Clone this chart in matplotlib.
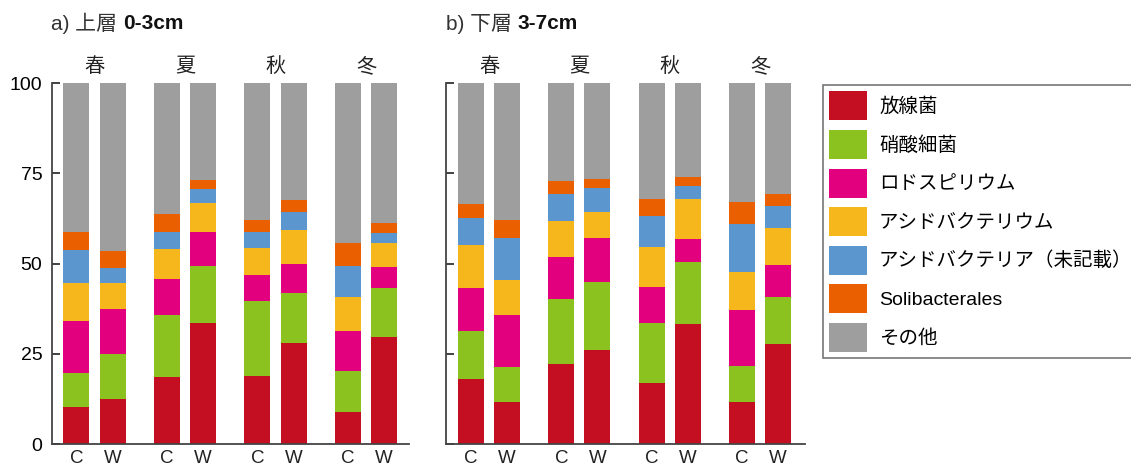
import matplotlib
matplotlib.use("Agg")
import matplotlib.pyplot as plt
import numpy as np

plt.rcParams['font.family'] = ['Liberation Sans', 'Noto Sans CJK JP']

seasons = ["春", "夏", "秋", "冬"]
treatments = ["C", "W"]
taxa = ["放線菌", "硝酸細菌", "ロドスピリウム", "アシドバクテリウム",
        "アシドバクテリア（未記載）", "Solibacterales", "その他"]
colors = ["#C40F22", "#8CC21F", "#E3007E", "#F5B71C", "#5B96CF", "#EA6000", "#9E9E9E"]

# bar order: 春C 春W 夏C 夏W 秋C 秋W 冬C 冬W  (%)
# a) upper layer 0-3cm
up_actino = [10.2, 12.5, 18.5, 33.6, 18.8, 28.1, 8.9, 29.6]
up_nitro  = [9.4, 12.4, 17.3, 15.8, 20.7, 13.6, 11.4, 13.5]
up_rhodo  = [14.6, 12.4, 10.0, 9.2, 7.2, 8.1, 11.0, 6.0]
up_acidi  = [10.3, 7.2, 8.2, 8.2, 7.6, 9.5, 9.5, 6.7]
up_acidu  = [9.2, 4.3, 4.6, 3.8, 4.3, 4.9, 8.6, 2.6]
up_soli   = [4.9, 4.7, 5.1, 2.5, 3.4, 3.4, 6.4, 2.9]
up_other  = [41.4, 46.5, 36.3, 26.9, 38.0, 32.4, 44.2, 38.7]

# b) lower layer 3-7cm
lo_actino = [18.1, 11.5, 22.1, 26.0, 16.8, 33.2, 11.5, 27.7]
lo_nitro  = [13.2, 9.9, 18.1, 18.8, 16.8, 17.2, 10.2, 13.1]
lo_rhodo  = [11.8, 14.4, 11.5, 12.2, 9.9, 6.3, 15.5, 8.7]
lo_acidi  = [12.0, 9.6, 10.0, 7.3, 11.2, 11.2, 10.5, 10.4]
lo_acidu  = [7.5, 11.6, 7.5, 6.5, 8.6, 3.6, 13.2, 6.0]
lo_soli   = [4.0, 5.0, 3.7, 2.7, 4.6, 2.4, 6.1, 3.4]
lo_other  = [33.4, 38.0, 27.1, 26.5, 32.1, 26.1, 33.0, 30.7]

upper = [up_actino, up_nitro, up_rhodo, up_acidi, up_acidu, up_soli, up_other]
lower = [lo_actino, lo_nitro, lo_rhodo, lo_acidi, lo_acidu, lo_soli, lo_other]

fig = plt.figure(figsize=(11.31, 4.70), dpi=100)
ax1 = fig.add_axes([0.046, 0.0553, 0.3157, 0.768])
ax2 = fig.add_axes([0.3943, 0.0553, 0.3174, 0.768])

groups = np.arange(len(seasons))
xpos = np.ravel(np.column_stack([groups - 0.2, groups + 0.2]))
xlabels = treatments * len(seasons)

handles = []
for ax, layer, xl in [(ax1, upper, (-0.47, 3.475)), (ax2, lower, (-0.476, 3.495))]:
    bottom = np.zeros(len(xpos))
    handles = []
    for vals, col, name in zip(layer, colors, taxa):
        b = ax.bar(xpos, vals, width=0.287, bottom=bottom, color=col, label=name, linewidth=0)
        handles.append(b)
        bottom += np.array(vals)
    ax.set_ylim(0, 100)
    ax.set_xlim(*xl)
    ax.set_yticks([0, 25, 50, 75, 100])
    ax.set_xticks(xpos)
    ax.set_xticklabels(xlabels, fontsize=13.5, color='#222222')
    ax.tick_params(axis='x', length=0, pad=4)
    ax.tick_params(axis='y', direction='in', length=6, width=1.3, labelsize=14, pad=7,
                   color='#333333')
    for s in ['top', 'right']:
        ax.spines[s].set_visible(False)
    for s in ['left', 'bottom']:
        ax.spines[s].set_linewidth(1.3)
        ax.spines[s].set_color('#444444')
    for i, s in enumerate(seasons):
        ax.text(i, 1.045, s, transform=ax.get_xaxis_transform(), ha='center', va='center',
                fontsize=14.5, color='#222222')

ax2.set_yticklabels([])

# titles: normal prefix + bold depth
fig.canvas.draw()
for x, pre, depth in [(0.045, "a) 上層 ", "0-3cm"), (0.3943, "b) 下層 ", "3-7cm")]:
    t = fig.text(x, 0.95, pre, fontsize=15, va='center', ha='left', color='#333333')
    fig.canvas.draw()
    bb = t.get_window_extent()
    fig.text(bb.x1 / fig.bbox.width, 0.95, depth, fontsize=15, va='center', ha='left',
             weight='bold', color='#111111')

fig.legend(handles, taxa, loc='upper left', bbox_to_anchor=(823 / 1131, 1 - 85 / 470),
           fontsize=14, frameon=True, fancybox=False, edgecolor='#555555',
           handlelength=1.95, handleheight=1.92, labelspacing=0.49, handletextpad=0.6,
           borderpad=0.33, borderaxespad=0)
fig.legends[0].get_frame().set_linewidth(1.2)

fig.savefig("out.png", dpi=100)
